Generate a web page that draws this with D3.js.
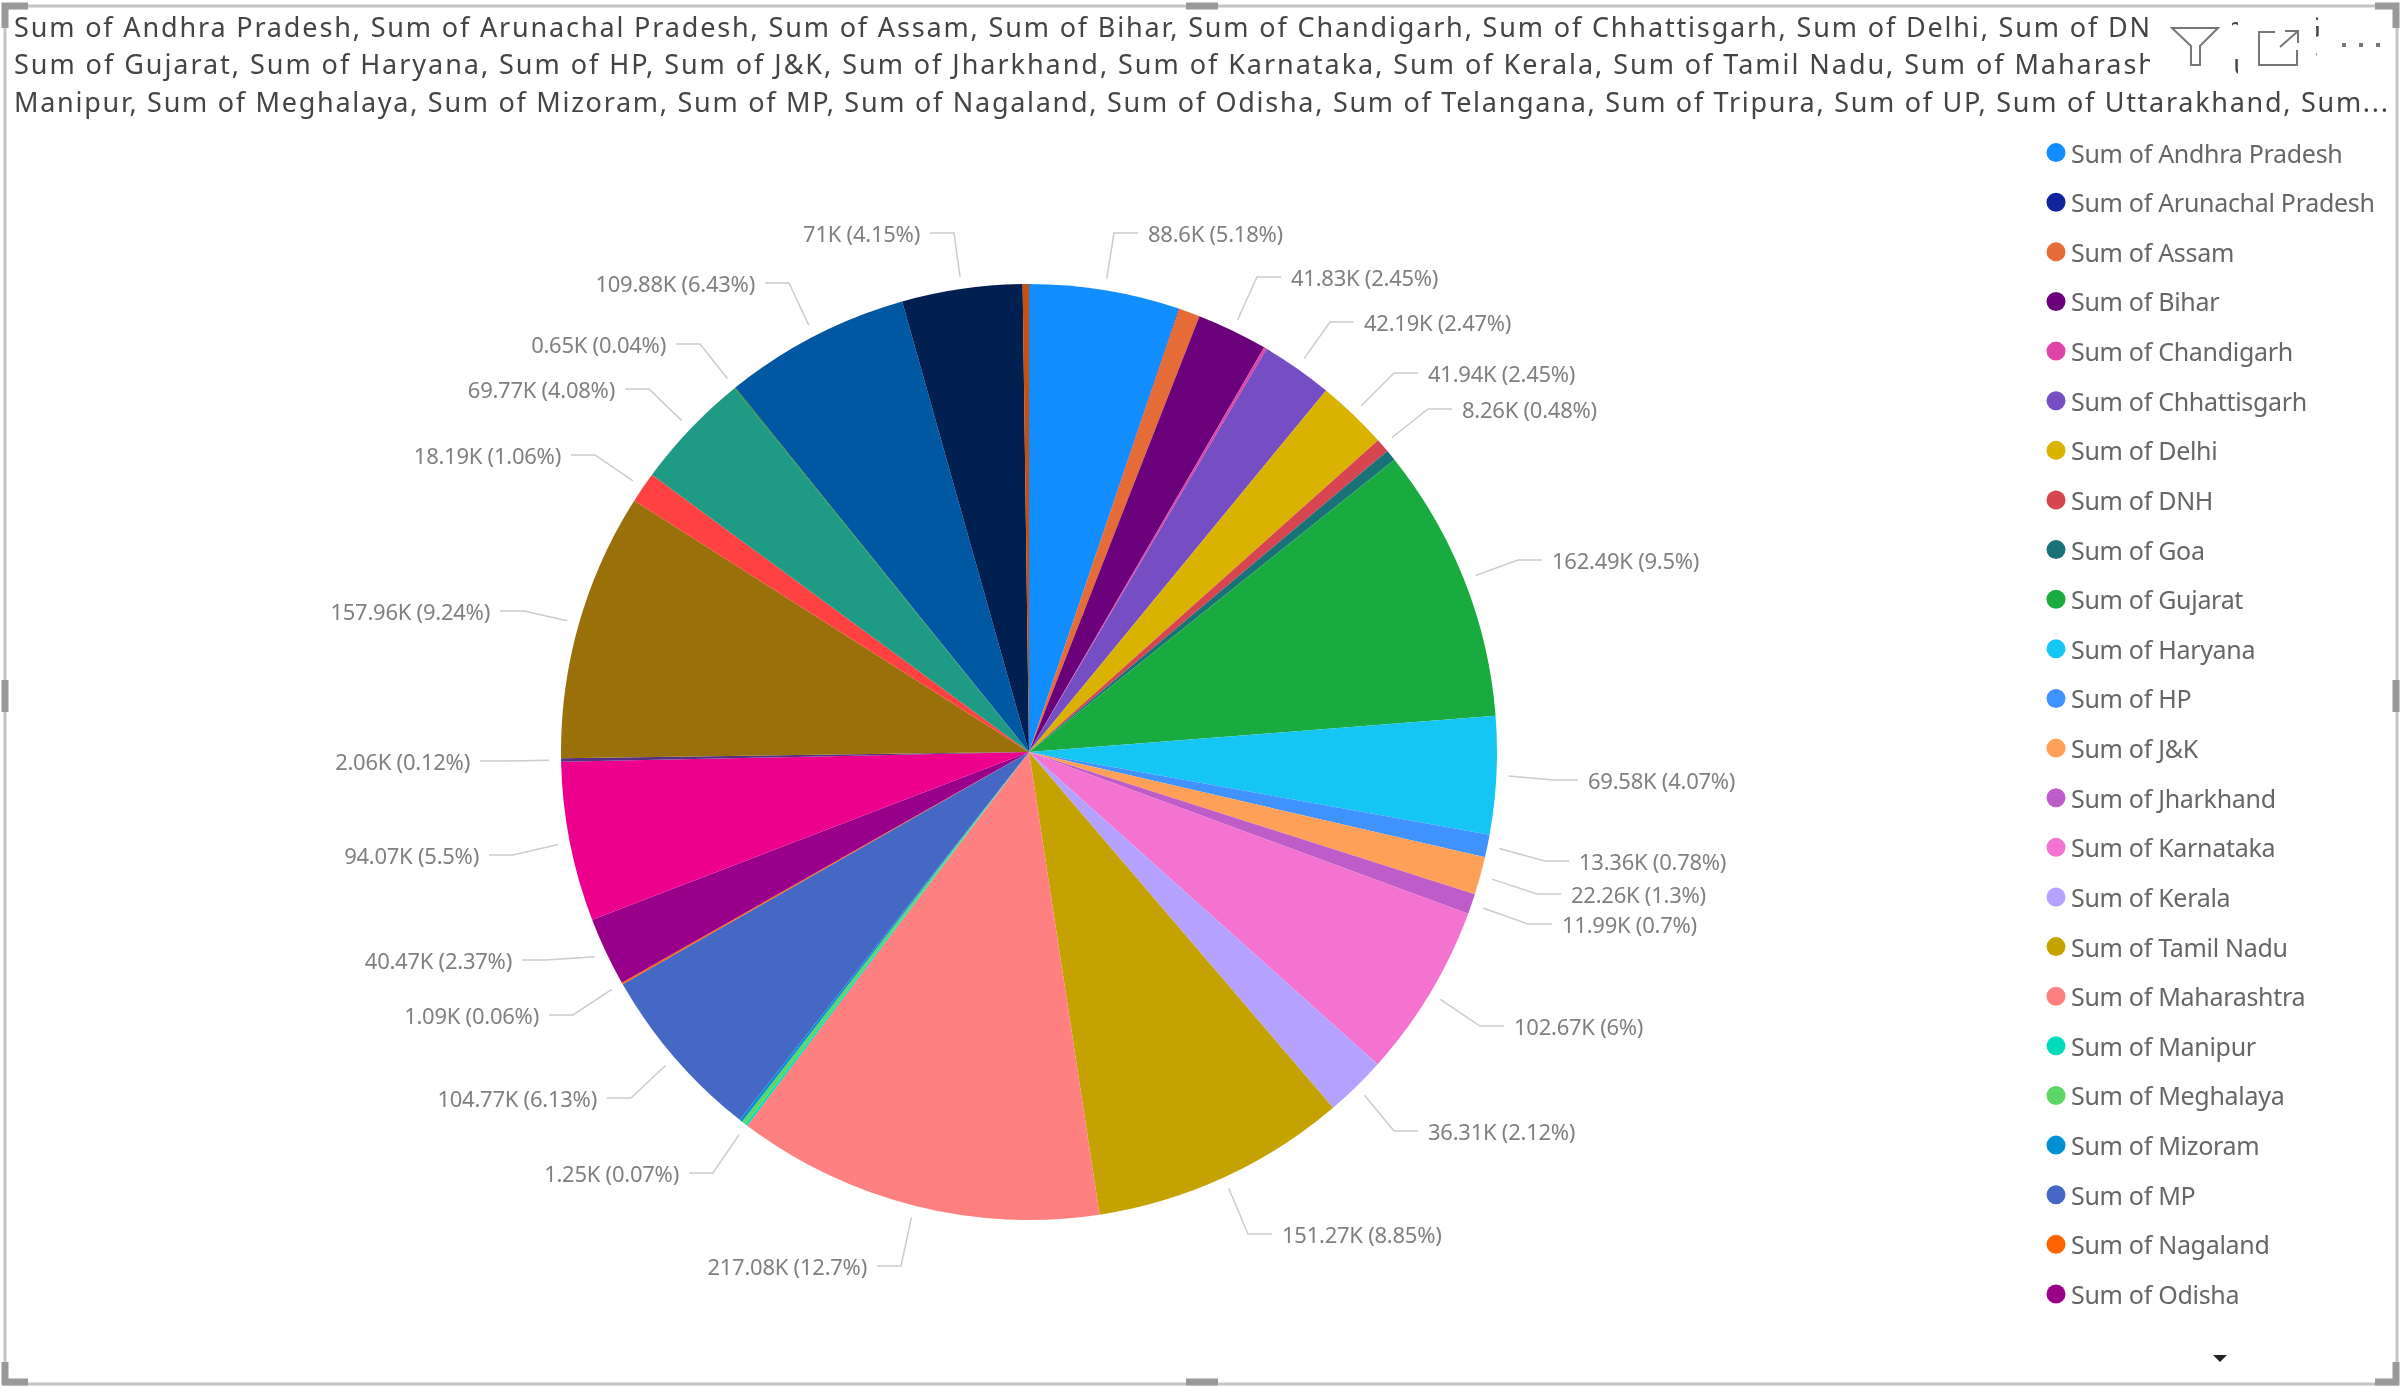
<!DOCTYPE html>
<html>
<head>
<meta charset="utf-8">
<title>Sum of states</title>
<script src="https://cdn.jsdelivr.net/npm/d3@7"></script>
<style>
  html, body { margin: 0; padding: 0; background: #fff; }
  svg { display: block; filter: blur(0.6px); }
  text { font-family: "Noto Sans", sans-serif; }
</style>
</head>
<body>
<div id="chart"></div>
<script>
// the last five series are scrolled out of the legend, their names can't be read
const categories = ["Andhra Pradesh", "Arunachal Pradesh", "Assam", "Bihar", "Chandigarh", "Chhattisgarh", "Delhi", "DNH", "Goa", "Gujarat", "Haryana", "HP", "J&K", "Jharkhand", "Karnataka", "Kerala", "Tamil Nadu", "Maharashtra", "Manipur", "Meghalaya", "Mizoram", "MP", "Nagaland", "Odisha", "Telangana", "Tripura", "UP", "Uttarakhand", "Series 29", "Series 30", "Series 31", "Series 32", "Series 33"];

// thousands. Unlabelled slices are estimated from their width
const values = [88.6, 0.35, 12.5, 41.83, 1.7, 42.19, 41.94, 8.26, 6.5, 162.49, 69.58, 13.36, 22.26, 11.99, 102.67, 36.31, 151.27, 217.08, 1.25, 2.56, 1.71, 104.77, 1.09, 40.47, 94.07, 2.06, 157.96, 18.19, 69.77, 0.65, 109.88, 71, 3.7];

const sliceLabels = ["88.6K (5.18%)", null, null, "41.83K (2.45%)", null, "42.19K (2.47%)", "41.94K (2.45%)", "8.26K (0.48%)", null, "162.49K (9.5%)", "69.58K (4.07%)", "13.36K (0.78%)", "22.26K (1.3%)", "11.99K (0.7%)", "102.67K (6%)", "36.31K (2.12%)", "151.27K (8.85%)", "217.08K (12.7%)", "1.25K (0.07%)", null, null, "104.77K (6.13%)", "1.09K (0.06%)", "40.47K (2.37%)", "94.07K (5.5%)", "2.06K (0.12%)", "157.96K (9.24%)", "18.19K (1.06%)", "69.77K (4.08%)", "0.65K (0.04%)", "109.88K (6.43%)", "71K (4.15%)", null];

const colors = ["#118DFF", "#12239E", "#E66C37", "#6B007B", "#E044A7", "#744EC2", "#D9B300", "#D64550", "#197278", "#1AAB40", "#15C6F4", "#4092FF", "#FFA058", "#BE5DC9", "#F472D0", "#B5A1FF", "#C4A200", "#FF8080", "#00DBBC", "#5BD667", "#0091D5", "#4668C5", "#FF6300", "#99008A", "#EC008C", "#533285", "#99700A", "#FF4141", "#1F9A85", "#25891C", "#0057A2", "#002050", "#C94F0F"];

const legendNames = categories.slice(0, 24).map((d) => "Sum of " + d);

const titleLines = [
  "Sum of Andhra Pradesh, Sum of Arunachal Pradesh, Sum of Assam, Sum of Bihar, Sum of Chandigarh, Sum of Chhattisgarh, Sum of Delhi, Sum of DNH, Sum of Goa,",
  "Sum of Gujarat, Sum of Haryana, Sum of HP, Sum of J&K, Sum of Jharkhand, Sum of Karnataka, Sum of Kerala, Sum of Tamil Nadu, Sum of Maharashtra, Sum of",
  "Manipur, Sum of Meghalaya, Sum of Mizoram, Sum of MP, Sum of Nagaland, Sum of Odisha, Sum of Telangana, Sum of Tripura, Sum of UP, Sum of Uttarakhand, Sum...",
];

// how far along each title line a known piece of text has to reach: [text, px]
const titleFits = [
  ["Sum of DN", 2136],
  ["Sum of Maharash", 2141],
  ["Sum...", 2374],
];

// where the data labels were pushed to: edge nearest the pie, and middle height
const labelSpots = {
  "Andhra Pradesh": [1148, 233], "Bihar": [1291, 277], "Chhattisgarh": [1364, 322], "Delhi": [1428, 373], "DNH": [1462, 409],
  "Gujarat": [1552, 560], "Haryana": [1588, 780], "HP": [1579, 861], "J&K": [1571, 894], "Jharkhand": [1562, 924],
  "Karnataka": [1514, 1026], "Kerala": [1428, 1131], "Tamil Nadu": [1282, 1234], "Maharashtra": [867, 1266], "Manipur": [679, 1173],
  "MP": [597, 1098], "Nagaland": [539, 1015], "Odisha": [512, 960], "Telangana": [479, 855], "Tripura": [470, 761],
  "UP": [490, 611], "Uttarakhand": [561, 455], "Series 29": [615, 389], "Series 30": [666, 344], "Series 31": [755, 283], "Series 32": [920, 233],
};

const width = 2400;
const height = 1388;
const cx = 1029;
const cy = 752;
const radius = 468;

const svg = d3
  .select("#chart")
  .append("svg")
  .attr("width", width)
  .attr("height", height);

// Title
const titleY = d3.scalePoint().domain(d3.range(3)).range([26, 101]);

svg
  .selectAll(".title")
  .data(titleLines)
  .join("text")
  .attr("class", "title")
  .attr("x", 14)
  .attr("y", (d, i) => titleY(i))
  .attr("dominant-baseline", "central")
  .attr("font-size", 27)
  .attr("fill", "#444")
  .text((d) => d)
  .each(function (d, i) {
    // the reference font has other widths, so squeeze each line to where it ends there
    const [piece, target] = titleFits[i];
    const chars = d.indexOf(piece) + piece.length;
    const natural = this.getSubStringLength(0, chars);
    d3.select(this).attr("letter-spacing", (target - natural) / (chars - 1));
  });

// header icons sit on white boxes over the title
[[2150, 2232], [2238, 2316], [2322, 2400]].forEach(([x0, x1]) => {
  svg.append("rect").attr("x", x0).attr("y", 8).attr("width", x1 - x0).attr("height", 74).attr("fill", "#fff");
});

const iconG = svg.append("g").attr("fill", "none").attr("stroke", "#777").attr("stroke-width", 2);
iconG.append("path").attr("d", "M2172,28H2218L2200,46V65H2191V46Z");
iconG.append("path").attr("d", "M2275,32H2259V65H2297V50M2280,47L2297,32M2285,31H2298V43");
svg
  .selectAll(".dot3")
  .data([2344, 2361, 2378])
  .join("rect")
  .attr("class", "dot3")
  .attr("x", (d) => d - 2)
  .attr("y", 43)
  .attr("width", 4)
  .attr("height", 4)
  .attr("fill", "#777");

// Pie
const pie = d3.pie().sort(null).value((d) => d.value);
const slices = pie(categories.map((name, i) => ({ name, value: values[i], color: colors[i], label: sliceLabels[i] })));

const arc = d3.arc().innerRadius(0).outerRadius(radius);
const leaderArc = d3.arc().innerRadius(radius + 12).outerRadius(radius + 12);

const plot = svg.append("g").attr("transform", `translate(${cx}, ${cy})`);

plot
  .selectAll(".slice")
  .data(slices)
  .join("path")
  .attr("class", "slice")
  .attr("d", arc)
  .attr("fill", (d) => d.data.color);

// Data labels with leader lines
const labelled = slices.filter((d) => d.data.label);
const onLeft = (d) => (d.startAngle + d.endAngle) / 2 > Math.PI;

plot
  .selectAll(".leader")
  .data(labelled)
  .join("polyline")
  .attr("class", "leader")
  .attr("fill", "none")
  .attr("stroke", "#ccc")
  .attr("stroke-width", 1.5)
  .attr("points", (d) => {
    const [lx, ly] = labelSpots[d.data.name];
    const dir = onLeft(d) ? 1 : -1;
    const from = leaderArc.centroid(d);
    return [from, [lx - cx + dir * 34, ly - cy], [lx - cx + dir * 10, ly - cy]].join(" ");
  });

plot
  .selectAll(".label")
  .data(labelled)
  .join("text")
  .attr("class", "label")
  .attr("x", (d) => labelSpots[d.data.name][0] - cx)
  .attr("y", (d) => labelSpots[d.data.name][1] - cy)
  .attr("dominant-baseline", "central")
  .attr("text-anchor", (d) => (onLeft(d) ? "end" : "start"))
  .attr("font-size", 22)
  .attr("letter-spacing", -0.25)
  .attr("fill", "#808080")
  .text((d) => d.data.label);

// Legend
const legendY = d3.scalePoint().domain(legendNames).range([152.6, 1294]);

const legend = svg
  .selectAll(".legend")
  .data(legendNames)
  .join("g")
  .attr("class", "legend")
  .attr("transform", (d) => `translate(2056, ${legendY(d)})`);

legend
  .append("circle")
  .attr("r", 9.5)
  .attr("fill", (d, i) => colors[i]);

legend
  .append("text")
  .attr("x", 15)
  .attr("dominant-baseline", "central")
  .attr("font-size", 25)
  .attr("letter-spacing", -0.3)
  .attr("fill", "#666")
  .text((d) => d);

// scroll arrow under the legend
svg.append("path").attr("d", "M2213,1355H2227L2220,1362Z").attr("fill", "#222");

// Visual frame and resize handles
const frame = svg.append("g");
frame
  .append("rect")
  .attr("x", 5)
  .attr("y", 6)
  .attr("width", 2392)
  .attr("height", 1378)
  .attr("fill", "none")
  .attr("stroke", "#c4c4c4")
  .attr("stroke-width", 3);

const handles = frame.append("g").attr("fill", "none").attr("stroke", "#999").attr("stroke-width", 7);
handles.append("path").attr("d", "M5,28V6H28");
handles.append("path").attr("d", "M2375,6H2396V28");
handles.append("path").attr("d", "M5,1362V1382H28");
handles.append("path").attr("d", "M2375,1382H2396V1362");
handles.append("path").attr("d", "M5,680V712");
handles.append("path").attr("d", "M2396,680V712");
handles.append("path").attr("d", "M1186,6H1218");
handles.append("path").attr("d", "M1186,1382H1218");
</script>
</body>
</html>
